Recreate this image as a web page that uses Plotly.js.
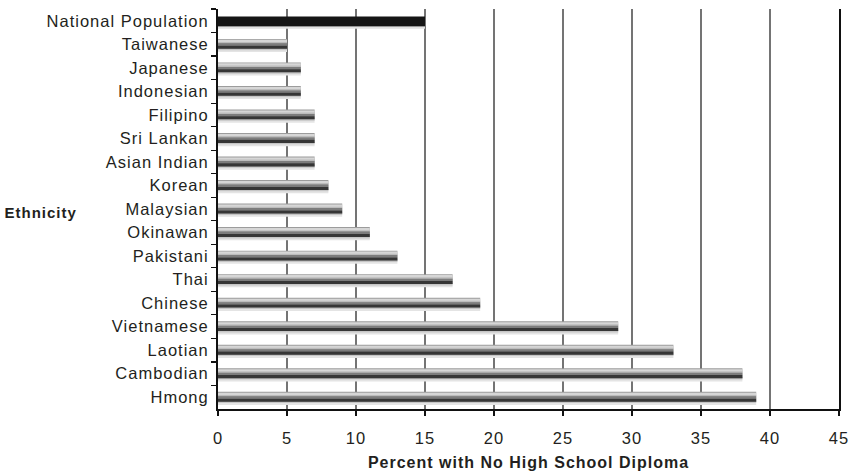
<!DOCTYPE html>
<html>
<head>
<meta charset="utf-8">
<script src="https://cdn.plot.ly/plotly-3.0.1.min.js"></script>
<style>
  html, body { margin: 0; padding: 0; background: #fff; }
  #chart { width: 854px; height: 471px; }
  #chart text { letter-spacing: 1px; }
</style>
</head>
<body>
<div id="chart"></div>
<script>
// Share of adults without a high school diploma, by Asian ethnicity
const nationalLabel = 'National Population';
const nationalValue = 15;

const ethnicities = [
  'Taiwanese', 'Japanese', 'Indonesian', 'Filipino', 'Sri Lankan',
  'Asian Indian', 'Korean', 'Malaysian', 'Okinawan', 'Pakistani',
  'Thai', 'Chinese', 'Vietnamese', 'Laotian', 'Cambodian', 'Hmong'
];
const noDiplomaPct = [5, 6, 6, 7, 7, 7, 8, 9, 11, 13, 17, 19, 29, 33, 38, 39];

const xTicks = [0, 5, 10, 15, 20, 25, 30, 35, 40, 45];

const allCategories = [nationalLabel].concat(ethnicities);
const TEXT = '#231f20';
const FONT = 'Liberation Sans, Arial, Helvetica, sans-serif';

// Stacked slices of each bar (offsets in category units, downward positive)
// give the bevelled, shaded look.
function layer(x, y, color, from, to) {
  return {
    type: 'bar', orientation: 'h', x: x, y: y,
    marker: { color: color, line: { width: 0 } },
    offset: from, width: to - from,
    hoverinfo: 'skip', showlegend: false
  };
}

const traces = [
  // soft drop shadow under each bar
  layer(noDiplomaPct, ethnicities, '#e4e4e4', 0.15, 0.33),
  layer(noDiplomaPct, ethnicities, '#c6c6c6', 0.15, 0.25),
  layer([nationalValue], [nationalLabel], '#e2e2e2', 0.18, 0.34),
  layer([nationalValue], [nationalLabel], '#c2c2c2', 0.18, 0.27),
  // bar body: top rim, highlight, mid tone, dark underside
  layer(noDiplomaPct, ethnicities, '#9c9c9c', -0.23, 0.19),
  layer(noDiplomaPct, ethnicities, '#d6d6d6', -0.19, -0.06),
  layer(noDiplomaPct, ethnicities, '#bcbcbc', -0.1, -0.04),
  layer(noDiplomaPct, ethnicities, '#7c7c7c', -0.04, 0.06),
  layer(noDiplomaPct, ethnicities, '#363636', 0.06, 0.19),
  // national reference bar
  layer([nationalValue], [nationalLabel], '#151515', -0.18, 0.23)
];

const layout = {
  width: 854, height: 471,
  margin: { l: 218, r: 15, t: 9, b: 62 },
  paper_bgcolor: '#ffffff', plot_bgcolor: '#ffffff',
  barmode: 'overlay',
  font: { family: FONT, size: 16, color: TEXT },
  showlegend: false,
  xaxis: {
    range: [0, 45],
    tickvals: xTicks,
    ticktext: xTicks.map(String),
    showgrid: true, gridcolor: '#747474', gridwidth: 1.3,
    zeroline: false,
    showline: true, linecolor: '#111', linewidth: 2,
    ticks: 'outside', ticklen: 5, tickwidth: 1.5, tickcolor: '#111',
    tickfont: { family: FONT, size: 16.5, color: TEXT },
    ticklabelstandoff: 8,
    title: {
      text: 'Percent with No High School Diploma',
      font: { family: FONT, size: 16, color: TEXT, weight: 'bold' },
      standoff: 12
    },
    fixedrange: true
  },
  yaxis: {
    type: 'category',
    categoryorder: 'array', categoryarray: allCategories,
    autorange: 'reversed',
    showgrid: false, zeroline: false,
    showline: true, linecolor: '#111', linewidth: 2, mirror: true,
    ticks: 'outside', tickson: 'boundaries', ticklen: 5, tickwidth: 1.2, tickcolor: '#111',
    tickfont: { family: FONT, size: 16.5, color: TEXT },
    ticklabelstandoff: 4,
    fixedrange: true
  },
  annotations: [{
    text: '<b>Ethnicity</b>',
    xref: 'paper', x: 0, xanchor: 'left', xshift: -211,
    yref: 'y', y: 'Malaysian', yanchor: 'middle', yshift: -3,
    showarrow: false,
    font: { family: FONT, size: 15, color: TEXT }
  }]
};

Plotly.newPlot('chart', traces, layout, { displayModeBar: false, staticPlot: true });
</script>
</body>
</html>
